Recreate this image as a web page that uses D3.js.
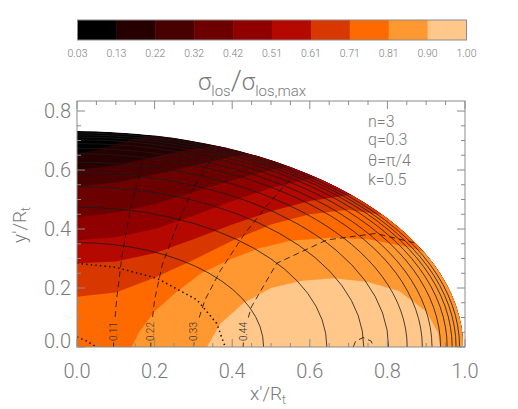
<!DOCTYPE html>
<html>
<head>
<meta charset="utf-8">
<script src="https://cdn.jsdelivr.net/npm/d3@7"></script>
<style>
  body { margin: 0; background: #fff; }
  svg { display: block; }
  text { font-family: Roboto, "Liberation Sans", "DejaVu Sans", sans-serif; font-weight: 300; fill: #7a7a7a; }
</style>
</head>
<body>
<svg width="518" height="409"></svg>
<script>
// colour levels of sigma_los / sigma_los,max
const levels = [0.03, 0.13, 0.22, 0.32, 0.42, 0.51, 0.61, 0.71, 0.81, 0.90, 1.00];
const bandColors = ["#000000", "#260000", "#490000", "#6c0000", "#910000",
                    "#b40800", "#d83800", "#ff6a00", "#ff9830", "#ffc88a"];

// boundaries between neighbouring colour bands (x'/Rt, y'/Rt)
const band01 = [[0, 0.656], [0.05, 0.668], [0.10, 0.688], [0.15, 0.708], [0.21, 0.72]];
const band02 = [[0, 0.60], [0.1, 0.615], [0.2, 0.645], [0.3, 0.672], [0.39, 0.69]];
const band03 = [[0, 0.543], [0.1, 0.558], [0.2, 0.585], [0.3, 0.615], [0.4, 0.645], [0.48, 0.66]];
const band04 = [[0, 0.44], [0.1, 0.455], [0.2, 0.485], [0.3, 0.525], [0.4, 0.565], [0.5, 0.6], [0.58, 0.62]];
const band05 = [[0, 0.362], [0.1, 0.372], [0.2, 0.4], [0.3, 0.445], [0.4, 0.495], [0.5, 0.54], [0.6, 0.57], [0.68, 0.58]];
const band06 = [[0, 0.284], [0.1, 0.29], [0.2, 0.318], [0.3, 0.365], [0.4, 0.415], [0.5, 0.46], [0.6, 0.495], [0.7, 0.515], [0.76, 0.5]];
const band07 = [[0, 0.17], [0.1, 0.185], [0.2, 0.235], [0.3, 0.295], [0.4, 0.36], [0.5, 0.415], [0.6, 0.45], [0.7, 0.465], [0.8, 0.445]];
const band08 = [[0.141, 0], [0.16, 0.05], [0.2, 0.12], [0.25, 0.18], [0.32, 0.25], [0.4, 0.3], [0.47, 0.335],
                [0.55, 0.36], [0.65, 0.37], [0.75, 0.365], [0.85, 0.34], [0.9, 0.32]];
const band09 = [[0.335, 0], [0.37, 0.08], [0.43, 0.15], [0.5, 0.2], [0.58, 0.225], [0.66, 0.233],
                [0.75, 0.22], [0.83, 0.19], [0.9, 0.12], [0.93, 0.05], [0.937, 0]];
const bandEdges = [band01, band02, band03, band04, band05, band06, band07, band08, band09];

// truncation edge and the solid elliptical contours
const edgeAxes = [0.995, 0.732];
const isoMajor = [0.481, 0.644, 0.739, 0.803, 0.851, 0.89, 0.915, 0.937, 0.954, 0.967, 0.977, 0.986];
const isoRatio = 0.736;

// dashed velocity contours
const velLabels = ["0.11", "0.22", "0.33", "0.44"];
const vel011 = [[0.094, 0], [0.097, 0.08], [0.102, 0.16], [0.115, 0.3], [0.135, 0.45], [0.167, 0.62], [0.185, 0.71]];
const vel022 = [[0.19, 0], [0.193, 0.08], [0.2, 0.16], [0.22, 0.28], [0.26, 0.42], [0.3, 0.54], [0.35, 0.645]];
const vel033 = [[0.30, 0], [0.31, 0.08], [0.33, 0.16], [0.37, 0.26], [0.43, 0.38], [0.49, 0.48], [0.56, 0.585]];
const vel044 = [[0.428, 0], [0.432, 0.06], [0.45, 0.137], [0.515, 0.284], [0.644, 0.363], [0.77, 0.385], [0.88, 0.35]];
const velLoop = [[0.712, 0], [0.718, 0.02], [0.738, 0.032], [0.758, 0.02], [0.765, 0]];
const velLines = [vel011, vel022, vel033, vel044];

// dotted contours
const dotA = [[0, 0.284], [0.1, 0.27], [0.206, 0.233], [0.309, 0.16], [0.36, 0.08], [0.382, 0]];
const dotB = [[0, 0.034], [0.025, 0.02], [0.05, 0]];

const xTicks = [0, 0.2, 0.4, 0.6, 0.8, 1.0];
const yTicks = [0, 0.2, 0.4, 0.6, 0.8];
const params = ["n=3", "q=0.3", "θ=π/4", "k=0.5"];

const svg = d3.select("svg");
const x = d3.scaleLinear().domain([0, 1]).range([77, 465]);
const y = d3.scaleLinear().domain([0, 0.834]).range([347, 101]);
const line = d3.line().x(d => x(d[0])).y(d => y(d[1]));

const defs = svg.append("defs");
defs.append("clipPath").attr("id", "plotClip")
    .append("rect").attr("x", x(0)).attr("y", y(0.834))
    .attr("width", x(1) - x(0)).attr("height", y(0) - y(0.834));

const edgePath = "M" + x(-edgeAxes[0]) + "," + y(0) +
    "A" + (x(edgeAxes[0]) - x(0)) + "," + (y(0) - y(edgeAxes[1])) + " 0 1 1 " + x(edgeAxes[0]) + "," + y(0) +
    "A" + (x(edgeAxes[0]) - x(0)) + "," + (y(0) - y(edgeAxes[1])) + " 0 1 1 " + x(-edgeAxes[0]) + "," + y(0) + "Z";
defs.append("clipPath").attr("id", "edgeClip").append("path").attr("d", edgePath);

// gaps in the dashed lines where the labels sit
const gap = defs.append("mask").attr("id", "labelGap")
    .attr("maskUnits", "userSpaceOnUse").attr("x", 0).attr("y", 0).attr("width", 518).attr("height", 409);
gap.append("rect").attr("width", 518).attr("height", 409).attr("fill", "#fff");
gap.selectAll("rect.g").data(velLines).enter().append("rect").attr("class", "g")
    .attr("x", d => x(d[0][0]) - 5).attr("y", y(0.1)).attr("width", 10).attr("height", y(0.015) - y(0.1))
    .attr("fill", "#000");

const plot = svg.append("g").attr("clip-path", "url(#plotClip)");
const field = plot.append("g").attr("clip-path", "url(#edgeClip)");

field.append("path").attr("d", edgePath).attr("fill", bandColors[0]);

// close each band edge around the outside so it covers the region above that level
function superLevel(pts) {
    const first = pts[0], last = pts[pts.length - 1];
    let poly = [];
    if (first[0] === 0) poly.push([-1, -1], [-1, first[1]]);
    else poly.push([first[0], -1]);
    poly = poly.concat(pts);
    if (last[1] === 0) poly.push([last[0], -1]);
    else poly.push([last[0] * 1.3, last[1] * 1.3], [2, last[1] * 1.3], [2, -1]);
    return poly;
}

field.selectAll(".band")
    .data(bandEdges)
    .enter().append("path")
    .attr("class", "band")
    .attr("d", d => line(superLevel(d)) + "Z")
    .attr("fill", (d, i) => bandColors[i + 1]);

// solid ellipses
field.selectAll(".iso")
    .data(isoMajor)
    .enter().append("path")
    .attr("class", "iso")
    .attr("d", a => {
        const rx = x(a) - x(0), ry = y(0) - y(a * isoRatio);
        return "M" + x(a) + "," + y(0) + "A" + rx + "," + ry + " 0 0 0 " + x(0) + "," + (y(0) - ry);
    })
    .attr("fill", "none").attr("stroke", "#1a1a1a").attr("stroke-width", 0.8);

const velG = field.append("g").attr("mask", "url(#labelGap)");
velG.selectAll(".vel")
    .data(velLines.concat([velLoop]))
    .enter().append("path")
    .attr("class", "vel")
    .attr("d", line)
    .attr("fill", "none").attr("stroke", "#111").attr("stroke-width", 0.8)
    .attr("stroke-dasharray", "6,4");

field.selectAll(".dot")
    .data([dotA, dotB])
    .enter().append("path")
    .attr("class", "dot")
    .attr("d", line)
    .attr("fill", "none").attr("stroke", "#111").attr("stroke-width", 1.6)
    .attr("stroke-dasharray", "1.4,3.2");

plot.selectAll(".vlab")
    .data(velLines)
    .enter().append("text")
    .attr("class", "vlab")
    .attr("transform", d => `translate(${x(d[0][0]) + 3.5},${y(0.02)}) rotate(-90)`)
    .style("font-size", "10px").style("fill", "#333")
    .text((d, i) => velLabels[i]);

// frame and ticks
const axisColor = "#8a8a8a";
svg.append("rect").attr("x", x(0)).attr("y", y(0.834))
    .attr("width", x(1) - x(0)).attr("height", y(0) - y(0.834))
    .attr("fill", "none").attr("stroke", axisColor).attr("stroke-width", 1);

const xMinor = d3.range(0, 1.001, 0.05);
const yMinor = d3.range(0, 0.834, 0.05);
const isMajor = v => Math.abs(v * 5 - Math.round(v * 5)) < 1e-6;
const ticks = svg.append("g").attr("stroke", axisColor).attr("stroke-width", 1);
xMinor.forEach(v => {
    const len = isMajor(v) ? 8 : 4;
    ticks.append("line").attr("x1", x(v)).attr("x2", x(v)).attr("y1", y(0)).attr("y2", y(0) - len);
    ticks.append("line").attr("x1", x(v)).attr("x2", x(v)).attr("y1", y(0.834)).attr("y2", y(0.834) + len);
});
yMinor.forEach(v => {
    const len = isMajor(v) ? 8 : 4;
    ticks.append("line").attr("y1", y(v)).attr("y2", y(v)).attr("x1", x(0)).attr("x2", x(0) + len);
    ticks.append("line").attr("y1", y(v)).attr("y2", y(v)).attr("x1", x(1)).attr("x2", x(1) - len);
});

svg.selectAll(".xt").data(xTicks).enter().append("text")
    .attr("x", d => x(d)).attr("y", 378)
    .attr("text-anchor", "middle").style("font-size", "20px")
    .text(d => d.toFixed(1));
svg.selectAll(".yt").data(yTicks).enter().append("text")
    .attr("x", 71).attr("y", d => d === 0 ? y(d) + 1 : y(d) + 7)
    .attr("text-anchor", "end").style("font-size", "20px")
    .text(d => d.toFixed(1));

// axis titles
const xt = svg.append("text").attr("x", 268).attr("y", 400).attr("text-anchor", "middle").style("font-size", "19px");
xt.append("tspan").text("x'/R");
xt.append("tspan").attr("dy", 4).style("font-size", "12px").text("t");
const yt = svg.append("text").attr("transform", "translate(26,225) rotate(-90)").attr("text-anchor", "middle").style("font-size", "19px");
yt.append("tspan").text("y'/R");
yt.append("tspan").attr("dy", 4).style("font-size", "12px").text("t");

// parameters
svg.selectAll(".par").data(params).enter().append("text")
    .attr("x", 368).attr("y", (d, i) => [127, 145, 166, 185][i])
    .style("font-size", "16px").text(d => d);

// colour bar
const cb = d3.scaleBand().domain(d3.range(bandColors.length)).range([77.5, 466.5]);
const cbPos = d3.scaleLinear().domain([0, bandColors.length]).range([77.5, 466.5]);
svg.selectAll(".cb").data(bandColors).enter().append("rect")
    .attr("x", (d, i) => cb(i)).attr("y", 20).attr("width", cb.bandwidth() + 0.5).attr("height", 20)
    .attr("fill", d => d);
svg.append("rect").attr("x", 77.5).attr("y", 20).attr("width", 389).attr("height", 20)
    .attr("fill", "none").attr("stroke", axisColor).attr("stroke-width", 1);
svg.selectAll(".cbl").data(levels).enter().append("text")
    .attr("x", (d, i) => cbPos(i)).attr("y", 57)
    .attr("text-anchor", "middle").style("font-size", "10.5px")
    .text(d => d.toFixed(2));

// title sigma_los / sigma_los,max
const title = svg.append("text").attr("x", 252).attr("y", 90).attr("text-anchor", "middle").style("font-size", "24px");
title.append("tspan").text("σ");
title.append("tspan").attr("dy", 6).style("font-size", "15px").text("los");
title.append("tspan").attr("dy", -6).style("font-size", "28px").text("/");
title.append("tspan").text("σ");
title.append("tspan").attr("dy", 6).style("font-size", "15px").text("los,max");
</script>
</body>
</html>
